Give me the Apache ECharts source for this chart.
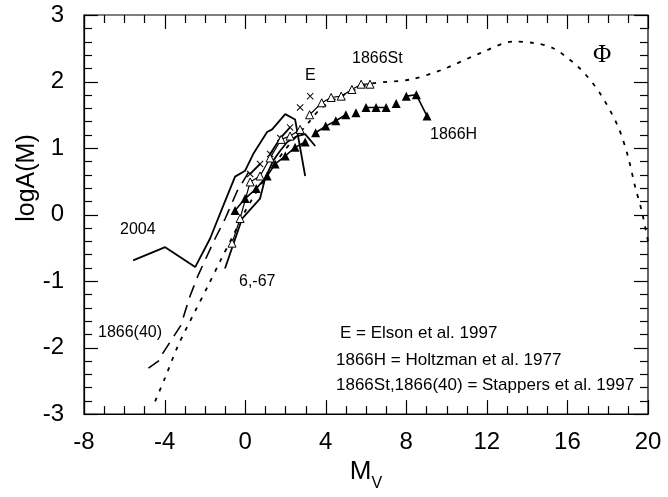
<!doctype html>
<html lang="en">
<head>
    <meta charset="UTF-8">
    <title>logA(M) vs M_V</title>
    <script src="https://cdn.jsdelivr.net/npm/echarts@6/dist/echarts.min.js"></script>
    <style>
        html, body { margin: 0; padding: 0; background: #fff; }
        #main { width: 668px; height: 497px; }
    </style>
</head>
<body>
<div id="main"></div>
<script type="text/javascript">
    // values, [M_V, logA(M)]
    var xTicks = [-8, -4, 0, 4, 8, 12, 16, 20];
    var yTicks = [-3, -2, -1, 0, 1, 2, 3];

    // luminosity function, dotted
    var phi = [[-4.47, -2.81], [-3.97, -2.45], [-3.33, -1.97], [-2.48, -1.45], [-1.84, -1.07],
        [-1.24, -0.70], [-0.6, -0.32], [0, 0.05], [1, 0.55], [2, 0.98], [3.2, 1.4], [3.7, 1.58],
        [4.5, 1.74], [5.5, 1.88], [6.3, 1.97], [8.2, 2.03], [9.8, 2.18], [11.7, 2.43], [13.3, 2.6],
        [14.3, 2.58], [15.3, 2.5], [16.6, 2.2], [17.6, 1.83], [18.5, 1.33], [19.0, 0.88],
        [19.36, 0.42], [19.7, 0.04], [20, -0.4]];
    // solid lines
    var line2004 = [[-5.56, -0.69], [-3.97, -0.49], [-2.48, -0.79], [-1.74, -0.36], [-1.09, 0.13],
        [-0.5, 0.57], [0, 0.66], [0.4, 0.91], [1.09, 1.24], [1.34, 1.28], [1.99, 1.51], [2.48, 1.43],
        [2.98, 0.58]];
    var line667 = [[-1.0, -0.81], [-0.15, -0.06], [0.74, 0.24], [0.99, 0.54], [1.39, 0.81],
        [1.74, 0.96], [2.09, 1.09], [2.58, 1.18], [2.98, 1.21], [3.48, 1.03]];
    // long dashed
    var line40 = [[-4.8, -2.31], [-4.2, -2.18], [-4.1, -2.09], [-3.2, -1.67], [-2.73, -1.22],
        [-2.33, -0.91], [-1.49, -0.36], [-0.99, -0.06], [-0.4, 0.35], [0.3, 0.7]];
    // Elson crosses (null = break in the line)
    var elson = [[0.25, 0.61], [0.74, 0.76], [1.0, null], [1.24, 0.91], [1.75, 1.15], [2.23, 1.31],
        [2.5, null], [2.73, 1.61], [3.0, null], [3.23, 1.78]];
    // Holtzman filled triangles
    var holtz = [[3.5, 1.23], [4.0, 1.33], [4.5, 1.41], [5.0, 1.5], [5.25, null], [5.5, 1.53],
        [5.75, null], [6.0, 1.61], [6.5, 1.61], [7.0, 1.61], [7.25, null], [7.5, 1.67], [7.75, null],
        [8.0, 1.78], [8.5, 1.8], [9.03, 1.48]];
    var holtzBand = [[-0.5, 0.06], [0, 0.24], [0.55, 0.39], [1.09, 0.58], [1.49, 0.76], [1.99, 0.88],
        [2.48, 1.01], [2.98, 1.09]];
    // Stappers open triangles
    var stap = [[3.2, 1.5], [3.8, 1.68], [4.27, 1.76], [4.77, 1.78], [5.3, 1.88], [5.76, 1.96],
        [6.2, 1.96]];
    var stapBand = [[-0.65, -0.43], [-0.25, -0.06], [0.25, 0.49], [0.74, 0.58], [1.24, 0.85],
        [1.79, 1.13], [2.23, 1.18], [2.73, 1.28]];

    var font = 'Liberation Sans, Arial, sans-serif';
    var crossPath = 'path://M0,1L1,0L5,4L9,0L10,1L6,5L10,9L9,10L5,6L1,10L0,9L4,5Z';

    var xMin = xTicks[0], xMax = xTicks[xTicks.length - 1];
    var yMin = yTicks[0], yMax = yTicks[yTicks.length - 1];

    // tick positions on all four sides: [value, isMajor]
    var xTickMarks = [];
    for (var i = 0; i <= (xMax - xMin); i++) {
        var xv = xMin + i;
        xTickMarks.push([xv, (xv - xMin) % 4 === 0 ? 1 : 0]);
    }
    var yTickMarks = [];
    for (var j = 0; j <= (yMax - yMin) * 5; j++) {
        yTickMarks.push([Math.round((yMin + j * 0.2) * 10) / 10, j % 5 === 0 ? 1 : 0]);
    }

    var tickStyle = {stroke: '#000', lineWidth: 1.2};

    function renderXTick(params, api) {
        var cs = params.coordSys;
        var px = Math.round(api.coord([api.value(0), yMin])[0]) + 0.5;
        var len = api.value(1) ? 14 : 8;
        var bottom = cs.y + cs.height;
        return {
            type: 'group', silent: true,
            children: [
                {type: 'line', shape: {x1: px, y1: bottom, x2: px, y2: bottom - len}, style: tickStyle},
                {type: 'line', shape: {x1: px, y1: cs.y, x2: px, y2: cs.y + len}, style: tickStyle}
            ]
        };
    }
    function renderYTick(params, api) {
        var cs = params.coordSys;
        var py = Math.round(api.coord([xMin, api.value(0)])[1]) + 0.5;
        var len = api.value(1) ? 14 : 8;
        var right = cs.x + cs.width;
        return {
            type: 'group', silent: true,
            children: [
                {type: 'line', shape: {x1: cs.x, y1: py, x2: cs.x + len, y2: py}, style: tickStyle},
                {type: 'line', shape: {x1: right, y1: py, x2: right - len, y2: py}, style: tickStyle}
            ]
        };
    }

    var xAxisOpt = {
        type: 'value', position: 'bottom', min: xMin, max: xMax, interval: 4,
        axisLine: {show: true, onZero: false, lineStyle: {color: '#000', width: 1.2}},
        axisTick: {show: false},
        splitLine: {show: false},
        axisLabel: {show: true, color: '#000', fontSize: 24, fontFamily: font, margin: 16},
        name: '{m|M}{s|V}', nameLocation: 'middle', nameGap: 36,
        nameTextStyle: {
            color: '#000', fontFamily: font,
            rich: {
                m: {fontSize: 26, fontFamily: font, color: '#000', verticalAlign: 'bottom', padding: [0, 0, 7, 0]},
                s: {fontSize: 16, fontFamily: font, color: '#000', verticalAlign: 'bottom'}
            }
        }
    };
    var yAxisOpt = {
        type: 'value', position: 'left', min: yMin, max: yMax, interval: 1,
        axisLine: {show: true, onZero: false, lineStyle: {color: '#000', width: 1.2}},
        axisTick: {show: false},
        splitLine: {show: false},
        axisLabel: {show: true, color: '#000', fontSize: 24, fontFamily: font, margin: 20}
    };

    function lineSeries(data, type, width, smooth) {
        return {
            type: 'line', data: data, symbol: 'none', smooth: smooth || false,
            lineStyle: {color: '#000', width: width, type: type}, silent: true
        };
    }
    function markSeries(data, symbol, size, open, width) {
        return {
            type: 'line', data: data, symbol: symbol, symbolSize: size, showSymbol: true,
            connectNulls: false,
            itemStyle: open ? {color: '#fff', borderColor: '#000', borderWidth: 1} : {color: '#000'},
            lineStyle: {color: '#000', width: width}, silent: true
        };
    }

    function txt(str, x, y, size, family) {
        return {
            type: 'text', x: x, y: y,
            style: {text: str, fill: '#000', fontSize: size, fontFamily: family || font, verticalAlign: 'middle'}
        };
    }

    var chart = echarts.init(document.getElementById('main'));
    var option = {
        animation: false,
        grid: {left: 84, right: 20, top: 15, bottom: 80,
            show: true, borderColor: '#000', borderWidth: 1.2},
        xAxis: xAxisOpt,
        yAxis: yAxisOpt,
        series: [
            {type: 'custom', data: xTickMarks, renderItem: renderXTick, silent: true, clip: false, z: 1},
            {type: 'custom', data: yTickMarks, renderItem: renderYTick, silent: true, clip: false, z: 1},
            lineSeries(phi, [4, 7], 1.8, 0.3),
            lineSeries(line2004, 'solid', 1.8),
            lineSeries(line667, 'solid', 1.8),
            lineSeries(line40, [13, 8], 1.6),
            markSeries(elson, crossPath, 7, false, 1.8),
            markSeries(holtz, 'triangle', 9, false, 1.6),
            markSeries(holtzBand, 'triangle', 9, false, 1.6),
            markSeries(stap, 'triangle', 8, true, 1.2),
            markSeries(stapBand, 'triangle', 8, true, 1.2)
        ],
        graphic: [
            {
                type: 'text', x: 27, y: 178, rotation: Math.PI / 2,
                style: {text: 'logA(M)', fill: '#000', fontSize: 25, fontFamily: font,
                    align: 'center', verticalAlign: 'middle'}
            },
            txt('1866St', 352, 59, 16),
            txt('E', 305, 76, 16),
            txt('\u03A6', 593, 55, 25, 'Liberation Serif, Times New Roman, serif'),
            txt('1866H', 430, 135, 16),
            txt('2004', 120, 230, 16),
            txt('6,-67', 239, 282, 16),
            txt('1866(40)', 98, 333, 16),
            txt('E = Elson et al. 1997', 340, 333, 17),
            txt('1866H = Holtzman et al. 1977', 336, 360, 17),
            txt('1866St,1866(40) = Stappers et al. 1997', 336, 385, 17)
        ]
    };
    chart.setOption(option);
</script>
</body>
</html>
